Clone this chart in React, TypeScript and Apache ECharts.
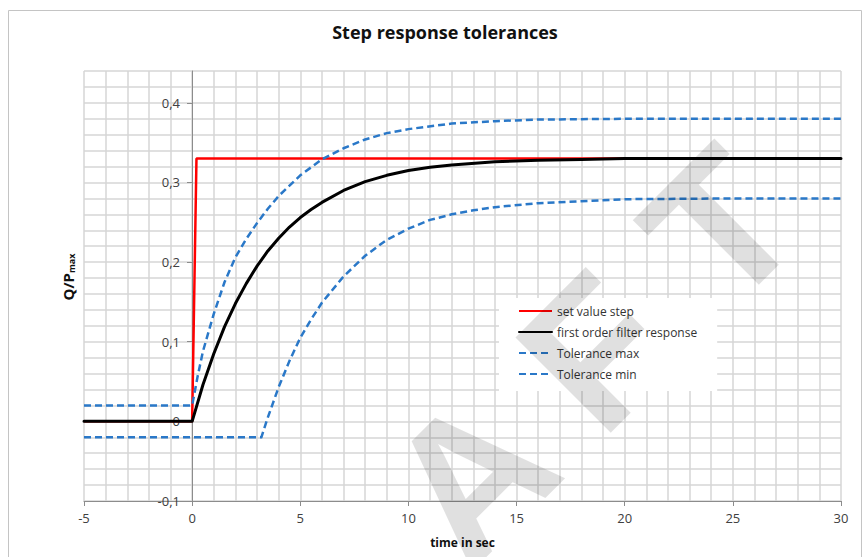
import React, { useEffect, useRef } from "react";
import * as echarts from "echarts";

const TITLE = "Step response tolerances";
const X_NAME = "time in sec";
const SERIES_NAMES = ["set value step", "first order filter response", "Tolerance max", "Tolerance min"];
const WATERMARK = ["A", "F", "T"];

const X_TICKS = [-5, 0, 5, 10, 15, 20, 25, 30];
const Y_TICKS = [-0.1, 0, 0.1, 0.2, 0.3, 0.4];

// set value step
const setT = [-5, 0, 0.2, 30];
const setV = [0, 0, 0.33, 0.33];

// first order filter response
const respT = [-5, 0, 0.5, 1, 1.5, 2, 2.5, 3, 3.5, 4, 4.5, 5, 5.5, 6, 7, 8, 9, 10, 11, 12, 14, 16, 18, 20, 25, 30];
const respV = [0, 0, 0.046, 0.085, 0.119, 0.148, 0.173, 0.195, 0.214, 0.23, 0.244, 0.256, 0.266, 0.275, 0.29, 0.301, 0.309, 0.315, 0.319, 0.322, 0.326, 0.328, 0.329, 0.33, 0.33, 0.33];

// Tolerance max
const maxT = [-5, 0, 0.25, 0.5, 1, 1.5, 2, 2.5, 3, 3.5, 4, 5, 6, 7, 8, 9, 10, 12, 14, 16, 20, 25, 30];
const maxV = [0.02, 0.02, 0.056, 0.088, 0.135, 0.175, 0.206, 0.229, 0.249, 0.267, 0.283, 0.309, 0.329, 0.343, 0.354, 0.362, 0.367, 0.374, 0.377, 0.379, 0.38, 0.38, 0.38];

// Tolerance min
const minT = [-5, 3.2, 3.5, 4, 4.5, 5, 5.5, 6, 7, 8, 9, 10, 11, 12, 13, 14, 16, 20, 25, 30];
const minV = [-0.02, -0.02, 0.005, 0.043, 0.076, 0.105, 0.128, 0.149, 0.182, 0.208, 0.228, 0.242, 0.253, 0.26, 0.265, 0.269, 0.274, 0.279, 0.28, 0.28];

const zip = (t: number[], v: number[]) => t.map((x, i) => [x, v[i]]);

const FONT = "'Open Sans', Lato, sans-serif";
const BLUE = "#2a78c8";
const AXIS_GRAY = "#8c8c8c";
const GRID_GRAY = "#d6d6d6";

export default function App() {
  const ref = useRef<HTMLDivElement>(null);
  useEffect(() => {
    if (!ref.current) return;
    const chart = echarts.init(ref.current, undefined, { renderer: "svg" });
    const isTick = (arr: number[], v: number) => arr.some((t) => Math.abs(t - v) < 1e-6);
    const dashed = { color: BLUE, width: 2.5, type: [7, 4] as any, cap: "butt" as any, join: "round" as any };

    const wmStep = 125;
    const wmT = { x: 721, y: 227 };
    const watermark = WATERMARK.map((ch, i) => {
      const k = i - (WATERMARK.length - 1);
      return {
        type: "text",
        silent: true,
        z: 100,
        x: wmT.x + k * wmStep,
        y: wmT.y - k * wmStep,
        rotation: Math.PI / 4,
        style: {
          text: ch,
          fontFamily: "'Liberation Sans', Arial, sans-serif",
          fontWeight: "bold",
          fontSize: 196,
          fill: "rgba(0,0,0,0.12)",
          textAlign: "center",
          textVerticalAlign: "middle",
          verticalAlign: "middle",
        },
      };
    });

    const gridAxisCommon = {
      type: "value",
      axisLine: { show: false },
      axisTick: { show: false },
      axisLabel: { show: false },
      splitLine: { show: true, lineStyle: { color: GRID_GRAY, width: 1.5 } },
    };

    chart.setOption({
      animation: false,
      backgroundColor: "#ffffff",
      title: {
        text: TITLE,
        left: 440,
        top: 18,
        textAlign: "center",
        textStyle: { fontFamily: FONT, fontSize: 18, fontWeight: "bold", color: "#111" },
      },
      grid: { left: 84, right: 24, top: 71, bottom: 56, containLabel: false },
      legend: {
        orient: "vertical",
        left: 499,
        top: 298,
        padding: [7, 20, 11, 19],
        backgroundColor: "#ffffff",
        itemWidth: 33,
        itemHeight: 14,
        itemGap: 9,
        itemStyle: { opacity: 0 },
        textStyle: { fontFamily: FONT, fontSize: 12, color: "#333" },
        data: SERIES_NAMES,
      },
      xAxis: [
        { ...gridAxisCommon, min: -5, max: 30, interval: 1 },
        {
          type: "value",
          min: -5,
          max: 30,
          interval: 5,
          position: "bottom",
          name: X_NAME,
          nameLocation: "middle",
          nameGap: 35,
          nameTextStyle: { fontFamily: FONT, fontSize: 12, fontWeight: "bold", color: "#111" },
          axisLine: { show: true, onZero: false, lineStyle: { color: AXIS_GRAY, width: 1 } },
          axisTick: { show: true, length: 5, lineStyle: { color: AXIS_GRAY } },
          axisLabel: {
            margin: 10,
            fontFamily: FONT,
            fontSize: 13,
            color: "#404040",
            formatter: (v: number) => (isTick(X_TICKS, v) ? String(Math.round(v)) : ""),
          },
          splitLine: { show: false },
        },
      ],
      yAxis: [
        { ...gridAxisCommon, min: -0.1, max: 0.44, interval: 0.02 },
        {
          type: "value",
          min: -0.1,
          max: 0.44,
          interval: 0.1,
          position: "left",
          offset: -108,
          axisLine: { show: true, onZero: false, lineStyle: { color: AXIS_GRAY, width: 1 } },
          axisTick: { show: true, customValues: Y_TICKS, length: 5, lineStyle: { color: AXIS_GRAY } },
          axisLabel: {
            customValues: Y_TICKS,
            margin: 12,
            fontFamily: FONT,
            fontSize: 13,
            color: "#404040",
            formatter: (v: number) =>
              isTick(Y_TICKS, v) ? String(Math.round(v * 10) / 10).replace(".", ",") : "",
          },
          splitLine: { show: false },
        },
      ],
      graphic: [
        {
          type: "rect",
          silent: true,
          z: -1,
          shape: { x: 8.5, y: 10.5, width: 853, height: 560 },
          style: { fill: "none", stroke: "#c4c4c4", lineWidth: 1 },
        },
        {
          type: "text",
          x: 68,
          y: 277,
          rotation: Math.PI / 2,
          style: {
            text: "{a|Q/P}{b|max}",
            textAlign: "center",
            textVerticalAlign: "middle",
            verticalAlign: "middle",
            rich: {
              a: { fontFamily: FONT, fontSize: 15, fontWeight: "bold", fill: "#111", color: "#111" },
              b: {
                fontFamily: FONT,
                fontSize: 9,
                fontWeight: "bold",
                fill: "#111",
                color: "#111",
                verticalAlign: "bottom",
              },
            },
          },
        },
        ...watermark,
      ],
      series: [
        {
          name: SERIES_NAMES[0],
          type: "line",
          symbol: "none",
          xAxisIndex: 0,
          yAxisIndex: 0,
          data: zip(setT, setV),
          lineStyle: { color: "#ff0000", width: 2.5 },
          itemStyle: { color: "#ff0000" },
          z: 2,
        },
        {
          name: SERIES_NAMES[1],
          type: "line",
          symbol: "none",
          xAxisIndex: 0,
          yAxisIndex: 0,
          data: zip(respT, respV),
          lineStyle: { color: "#000000", width: 3, cap: "round", join: "round" },
          itemStyle: { color: "#000000" },
          z: 3,
        },
        {
          name: SERIES_NAMES[2],
          type: "line",
          symbol: "none",
          xAxisIndex: 0,
          yAxisIndex: 0,
          data: zip(maxT, maxV),
          lineStyle: dashed,
          itemStyle: { color: BLUE },
          z: 2,
        },
        {
          name: SERIES_NAMES[3],
          type: "line",
          symbol: "none",
          xAxisIndex: 0,
          yAxisIndex: 0,
          data: zip(minT, minV),
          lineStyle: dashed,
          itemStyle: { color: BLUE },
          z: 2,
        },
      ],
    });
    return () => chart.dispose();
  }, []);
  return (
    <div
      ref={ref}
      style={{ position: "absolute", left: 0, top: 0, width: 865, height: 557 }}
    />
  );
}
